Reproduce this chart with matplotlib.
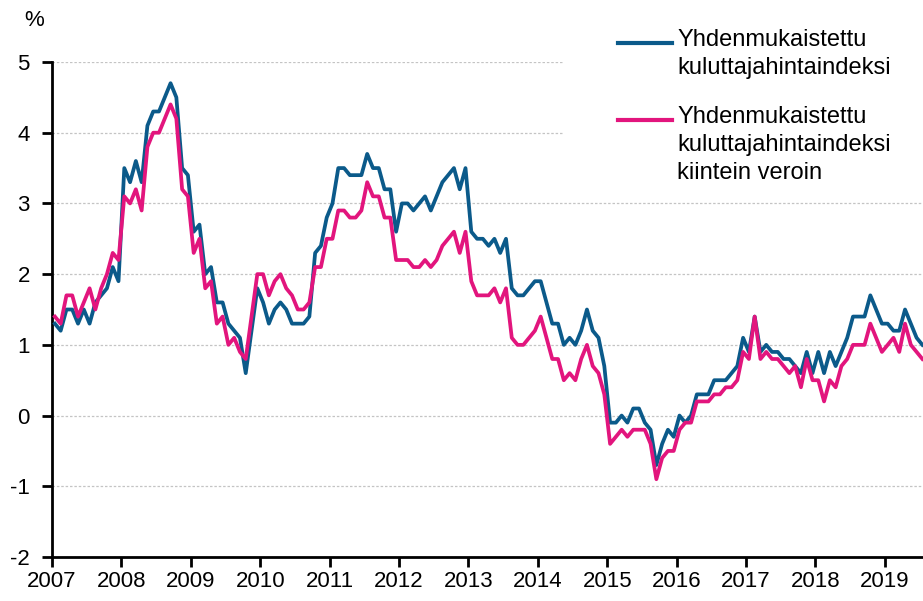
import matplotlib
matplotlib.use("Agg")
import matplotlib.pyplot as plt
from matplotlib.lines import Line2D
from matplotlib.patches import Rectangle
import numpy as np

# Yhdenmukaistettu kuluttajahintaindeksi, vuosimuutos %, kuukausittain 1/2007 - 7/2019
hicp = [
    1.3, 1.2, 1.5, 1.5, 1.3, 1.5, 1.3, 1.6, 1.7, 1.8, 2.1, 1.9,
    3.5, 3.3, 3.6, 3.3, 4.1, 4.3, 4.3, 4.5, 4.7, 4.5, 3.5, 3.4,
    2.6, 2.7, 2.0, 2.1, 1.6, 1.6, 1.3, 1.2, 1.1, 0.6, 1.2, 1.8,
    1.6, 1.3, 1.5, 1.6, 1.5, 1.3, 1.3, 1.3, 1.4, 2.3, 2.4, 2.8,
    3.0, 3.5, 3.5, 3.4, 3.4, 3.4, 3.7, 3.5, 3.5, 3.2, 3.2, 2.6,
    3.0, 3.0, 2.9, 3.0, 3.1, 2.9, 3.1, 3.3, 3.4, 3.5, 3.2, 3.5,
    2.6, 2.5, 2.5, 2.4, 2.5, 2.3, 2.5, 1.8, 1.7, 1.7, 1.8, 1.9,
    1.9, 1.6, 1.3, 1.3, 1.0, 1.1, 1.0, 1.2, 1.5, 1.2, 1.1, 0.7,
    -0.1, -0.1, 0.0, -0.1, 0.1, 0.1, -0.1, -0.2, -0.7, -0.4, -0.2, -0.3,
    0.0, -0.1, 0.0, 0.3, 0.3, 0.3, 0.5, 0.5, 0.5, 0.6, 0.7, 1.1,
    0.9, 1.4, 0.9, 1.0, 0.9, 0.9, 0.8, 0.8, 0.7, 0.6, 0.9, 0.6,
    0.9, 0.6, 0.9, 0.7, 0.9, 1.1, 1.4, 1.4, 1.4, 1.7, 1.5, 1.3,
    1.3, 1.2, 1.2, 1.5, 1.3, 1.1, 1.0,
]

# ... kiintein veroin
hicp_ct = [
    1.4, 1.3, 1.7, 1.7, 1.4, 1.6, 1.8, 1.5, 1.8, 2.0, 2.3, 2.2,
    3.1, 3.0, 3.2, 2.9, 3.8, 4.0, 4.0, 4.2, 4.4, 4.2, 3.2, 3.1,
    2.3, 2.5, 1.8, 1.9, 1.3, 1.4, 1.0, 1.1, 0.9, 0.8, 1.4, 2.0,
    2.0, 1.7, 1.9, 2.0, 1.8, 1.7, 1.5, 1.5, 1.6, 2.1, 2.1, 2.5,
    2.5, 2.9, 2.9, 2.8, 2.8, 2.9, 3.3, 3.1, 3.1, 2.8, 2.8, 2.2,
    2.2, 2.2, 2.1, 2.1, 2.2, 2.1, 2.2, 2.4, 2.5, 2.6, 2.3, 2.6,
    1.9, 1.7, 1.7, 1.7, 1.8, 1.6, 1.8, 1.1, 1.0, 1.0, 1.1, 1.2,
    1.4, 1.1, 0.8, 0.8, 0.5, 0.6, 0.5, 0.8, 1.0, 0.7, 0.6, 0.3,
    -0.4, -0.3, -0.2, -0.3, -0.2, -0.2, -0.2, -0.4, -0.9, -0.6, -0.5, -0.5,
    -0.2, -0.1, -0.1, 0.2, 0.2, 0.2, 0.3, 0.3, 0.4, 0.4, 0.5, 0.9,
    0.8, 1.4, 0.8, 0.9, 0.8, 0.8, 0.7, 0.6, 0.7, 0.4, 0.8, 0.5,
    0.5, 0.2, 0.5, 0.4, 0.7, 0.8, 1.0, 1.0, 1.0, 1.3, 1.1, 0.9,
    1.0, 1.1, 0.9, 1.3, 1.0, 0.9, 0.8,
]

years = list(range(2007, 2020))
labels = ["Yhdenmukaistettu\nkuluttajahintaindeksi",
          "Yhdenmukaistettu\nkuluttajahintaindeksi\nkiintein veroin"]
colors = ["#0b5a8a", "#e2157d"]

# kuukaudet keskelle kuukautta
x = 2007 + (np.arange(len(hicp)) + 0.5) / 12

plt.rcParams["font.family"] = ["Liberation Sans", "DejaVu Sans"]
plt.rcParams["axes.unicode_minus"] = False

W, H = 923, 601
fig = plt.figure(figsize=(W / 100, H / 100), dpi=100)
# akseli jatkuu kuvan oikean reunan yli (2020 asti)
left, bottom, top = 52, 557, 62
px_year = 69.4
ax = fig.add_axes([left / W, (H - bottom) / H, 13 * px_year / W, (bottom - top) / H])

ax.plot(x, hicp, color=colors[0], lw=2.7, solid_joinstyle="round", zorder=3)
ax.plot(x, hicp_ct, color=colors[1], lw=2.7, solid_joinstyle="round", zorder=3)

ax.set_xlim(2007, 2020)
ax.set_ylim(-2, 5)
ax.set_yticks(range(-2, 6))
ax.set_xticks(years)
ax.set_xticklabels([str(y) for y in years])

ax.grid(axis="y", color="#c4c4c4", lw=0.9, ls=(0, (2, 1.5)))
ax.set_axisbelow(True)
for s in ["top", "right"]:
    ax.spines[s].set_visible(False)
for s in ["left", "bottom"]:
    ax.spines[s].set_linewidth(2)
ax.tick_params(axis="both", direction="out", length=7, width=2, labelsize=16, colors="black")
ax.tick_params(axis="y", pad=9)
ax.tick_params(axis="x", pad=3)

fig.text(24 / W, 1 - 20 / H, "%", fontsize=16, va="center", ha="left")

# selitteen valkoinen tausta
fig.add_artist(Rectangle((563 / W, 1 - 198 / H), 1, 198 / H, transform=fig.transFigure,
                         facecolor="white", edgecolor="none", zorder=2))

# selite
fs = 17
for y0, lab, c in [(43, labels[0], colors[0]), (120, labels[1], colors[1])]:
    fig.add_artist(Line2D([618 / W, 672 / W], [1 - y0 / H] * 2, transform=fig.transFigure,
                          color=c, lw=3, zorder=4))
    fig.text(677 / W, 1 - (y0 - 14) / H, lab, fontsize=fs, va="top", ha="left",
             linespacing=1.36, zorder=4)

fig.savefig("out.png", dpi=100)
